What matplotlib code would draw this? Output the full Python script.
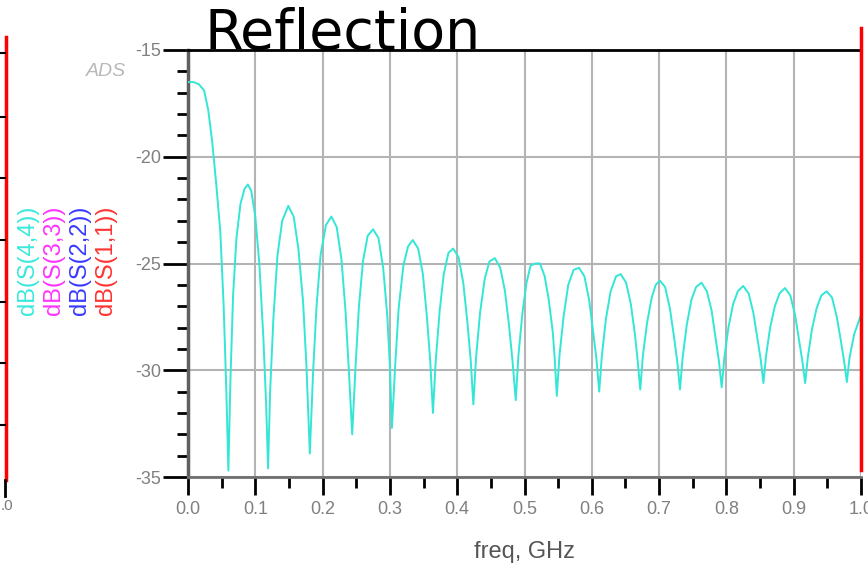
import matplotlib
matplotlib.use("Agg")
import matplotlib.pyplot as plt
from matplotlib.lines import Line2D
import numpy as np

plt.rcParams["axes.unicode_minus"] = False

# S(4,4) reflection trace
freq = [0.000, 0.008, 0.016, 0.024, 0.030, 0.036, 0.042, 0.048, 0.053, 0.057,
        0.060, 0.063, 0.067, 0.072, 0.078, 0.084, 0.089, 0.094, 0.100, 0.106,
        0.112, 0.116, 0.119, 0.122, 0.127, 0.133, 0.140, 0.149, 0.157, 0.164,
        0.171, 0.176, 0.181, 0.186, 0.191, 0.197, 0.205, 0.213, 0.221, 0.228,
        0.234, 0.239, 0.244, 0.249, 0.254, 0.260, 0.267, 0.275, 0.283, 0.290,
        0.296, 0.300, 0.303, 0.308, 0.313, 0.320, 0.327, 0.334, 0.342, 0.349,
        0.355, 0.360, 0.364, 0.368, 0.374, 0.380, 0.387, 0.394, 0.402, 0.409,
        0.415, 0.420, 0.424, 0.428, 0.434, 0.441, 0.448, 0.456, 0.464, 0.471,
        0.477, 0.482, 0.487, 0.491, 0.497, 0.503, 0.509, 0.516, 0.523, 0.530,
        0.536, 0.542, 0.545, 0.548, 0.552, 0.558, 0.565, 0.573, 0.581, 0.589,
        0.596, 0.602, 0.607, 0.611, 0.615, 0.621, 0.628, 0.636, 0.643, 0.651,
        0.658, 0.664, 0.668, 0.672, 0.676, 0.682, 0.689, 0.695, 0.701, 0.709,
        0.716, 0.722, 0.727, 0.731, 0.735, 0.741, 0.748, 0.755, 0.763, 0.771,
        0.778, 0.784, 0.789, 0.793, 0.797, 0.803, 0.810, 0.817, 0.825, 0.833,
        0.840, 0.846, 0.851, 0.855, 0.859, 0.865, 0.872, 0.879, 0.887, 0.895,
        0.902, 0.908, 0.913, 0.917, 0.921, 0.927, 0.934, 0.941, 0.949, 0.957,
        0.964, 0.970, 0.975, 0.979, 0.983, 0.990, 1.000]
s44_db = [-16.5, -16.5, -16.6, -16.9, -17.8, -19.3, -21.3, -23.5, -27.0, -31.0,
          -34.7, -30.5, -26.5, -23.8, -22.2, -21.5, -21.3, -21.6, -22.8, -25.0,
          -28.5, -31.5, -34.6, -31.0, -27.5, -24.6, -23.0, -22.3, -22.8, -24.3,
          -26.8, -29.8, -33.9, -30.0, -27.0, -24.6, -23.2, -22.8, -23.3, -24.8,
          -27.2, -30.0, -33.0, -29.8, -27.0, -24.9, -23.7, -23.4, -23.8, -25.2,
          -27.4, -29.8, -32.7, -29.7, -27.1, -25.1, -24.2, -23.9, -24.3, -25.5,
          -27.5, -29.6, -32.0, -29.6, -27.2, -25.5, -24.5, -24.3, -24.7, -25.9,
          -27.7, -29.5, -31.6, -29.4, -27.3, -25.7, -24.9, -24.75, -25.2, -26.3,
          -27.9, -29.5, -31.4, -29.3, -27.3, -25.9, -25.1, -25.0, -25.0, -25.6,
          -26.7, -28.2, -29.5, -31.2, -29.3, -27.5, -26.0, -25.3, -25.2, -25.6,
          -26.7, -28.2, -29.5, -31.0, -29.3, -27.6, -26.3, -25.6, -25.5, -25.9,
          -26.9, -28.3, -29.5, -30.9, -29.3, -27.8, -26.6, -26.0, -25.8, -26.1,
          -27.1, -28.4, -29.6, -30.9, -29.4, -27.9, -26.7, -26.1, -25.9, -26.3,
          -27.2, -28.5, -29.6, -30.8, -29.4, -28.0, -26.9, -26.3, -26.05, -26.4,
          -27.3, -28.5, -29.5, -30.6, -29.3, -28.0, -27.0, -26.4, -26.15, -26.5,
          -27.4, -28.6, -29.6, -30.6, -29.4, -28.1, -27.1, -26.5, -26.3, -26.6,
          -27.5, -28.6, -29.6, -30.55, -29.4, -28.3, -27.4]

legend_labels = ["dB(S(4,4))", "dB(S(3,3))", "dB(S(2,2))", "dB(S(1,1))"]
legend_colors = ["#3ce8dc", "#ff33ff", "#3a3aff", "#ff3333"]

xticks = [0.0, 0.1, 0.2, 0.3, 0.4, 0.5, 0.6, 0.7, 0.8, 0.9, 1.0]
yticks = [-35, -30, -25, -20, -15]

W, H = 868, 567
fig = plt.figure(figsize=(W / 100, H / 100), dpi=100)
ax = fig.add_axes([188 / W, 1 - 477 / H, (861 - 188) / W, (477 - 50) / H])

ax.plot(freq, s44_db, color="#33e6d6", lw=1.4, zorder=3)

ax.set_xlim(0, 1)
ax.set_ylim(-35, -15)
ax.set_xticks(xticks)
ax.set_xticklabels(["%.1f" % v for v in xticks])
ax.set_yticks(yticks)
ax.set_xticks(np.arange(0.05, 1.0, 0.1), minor=True)
ax.set_yticks(np.arange(-34, -15, 1), minor=True)
ax.grid(True, which="major", color="#b4b4b4", lw=1.5, zorder=1)

ax.tick_params(axis="both", which="major", length=13, width=2, color="black",
               labelcolor="#808080", labelsize=13)
ax.tick_params(axis="both", which="minor", length=8, width=2, color="black")
ax.tick_params(axis="y", which="major", length=18, pad=1)
ax.tick_params(axis="x", which="major", pad=4)
for lab in ax.get_xticklabels() + ax.get_yticklabels():
    lab.set_family("Liberation Sans")

ax.spines["left"].set_color("#606060")
ax.spines["left"].set_linewidth(2.5)
ax.spines["bottom"].set_color("#707070")
ax.spines["bottom"].set_linewidth(2)
ax.spines["top"].set_color("black")
ax.spines["top"].set_linewidth(2)
ax.spines["right"].set_visible(False)

ax.set_xlabel("freq, GHz", family="Liberation Sans", fontsize=17,
              color="#555555", labelpad=17)

# ADS watermark and stacked vertical legend
fig.text(106 / W, 1 - 72 / H, "ADS", family="Liberation Sans", style="italic",
         fontsize=14, color="#b8b8b8", ha="center", va="center")
for i, (lab, col) in enumerate(zip(legend_labels, legend_colors)):
    fig.text((28 + i * 26) / W, 1 - 260 / H, lab, rotation=90,
             family="Liberation Sans", fontsize=17, color=col,
             ha="center", va="center")

# pieces of neighbouring panels cut by the crop
fig.add_artist(Line2D([861 / W, 861 / W], [1 - 28 / H, 1 - 470 / H],
                      color="#ff0000", lw=2.5))
fig.add_artist(Line2D([6 / W, 6 / W], [1 - 37 / H, 1 - 480 / H],
                      color="#ff0000", lw=2.5))
for yp in [53, 117, 178, 240, 302, 363, 425]:
    fig.add_artist(Line2D([0, 5 / W], [1 - yp / H, 1 - yp / H],
                          color="black", lw=1.5))
fig.add_artist(Line2D([5 / W, 5 / W], [1 - 480 / H, 1 - 496 / H],
                      color="black", lw=2))
fig.text(1 / W, 1 - 506 / H, ".0", family="Liberation Sans", fontsize=11,
         color="#7a7a7a", ha="left", va="center")

fig.text(205 / W, 1 - 49 / H, "Reflection", fontsize=40, color="black",
         ha="left", va="baseline")

fig.savefig("out.png", dpi=100)
